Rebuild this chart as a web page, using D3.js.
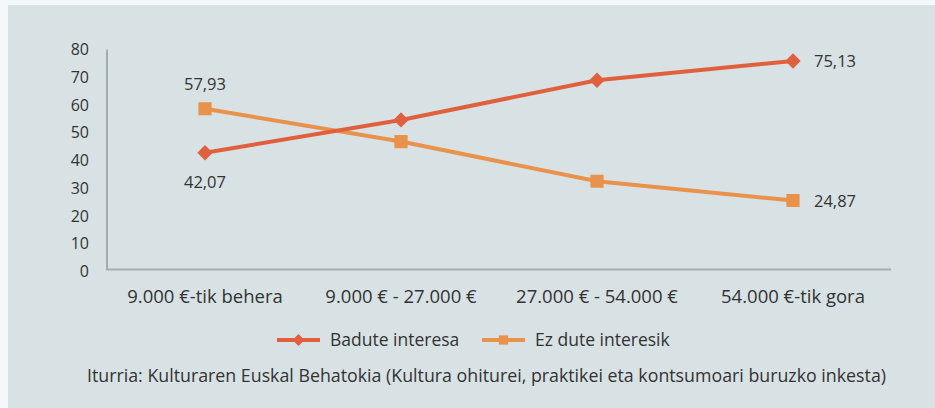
<!DOCTYPE html>
<html>
<head>
<meta charset="utf-8">
<script src="https://cdn.jsdelivr.net/npm/d3@7"></script>
<style>
  body { margin: 0; background: #f5f8f8; }
  svg { display: block; }
  text { font-family: "Open Sans", sans-serif; fill: #333; }
</style>
</head>
<body>
<div id="chart"></div>
<script>
const categories = ["9.000 €-tik behera", "9.000 € - 27.000 €", "27.000 € - 54.000 €", "54.000 €-tik gora"];
const baduteInteresa = [42.07, 53.9, 68.2, 75.13];
const ezDuteInteresik = [57.93, 46.1, 31.8, 24.87];
const yTicks = [0, 10, 20, 30, 40, 50, 60, 70, 80];
const seriesNames = ["Badute interesa", "Ez dute interesik"];
const sourceText = "Iturria: Kulturaren Euskal Behatokia (Kultura ohiturei, praktikei eta kontsumoari buruzko inkesta)";

const width = 935, height = 408;
const colors = ["#e0603d", "#e8924b"];

const svg = d3.select("#chart").append("svg")
    .attr("width", width)
    .attr("height", height);

// panel
svg.append("rect")
    .attr("x", 8).attr("y", 5)
    .attr("width", width).attr("height", height)
    .attr("fill", "#d8e2e4");

const x = d3.scaleBand()
    .domain(categories)
    .range([107, 891]);

const y = d3.scaleLinear()
    .domain([0, 80])
    .range([269.5, 47.5]);

// axes
svg.append("line")
    .attr("x1", 107).attr("x2", 107)
    .attr("y1", y(80) + 2).attr("y2", y(0))
    .attr("stroke", "#a3adb0").attr("stroke-width", 2);
svg.append("line")
    .attr("x1", 106).attr("x2", 891)
    .attr("y1", y(0)).attr("y2", y(0))
    .attr("stroke", "#a3adb0").attr("stroke-width", 2);

svg.selectAll(".ytick")
    .data(yTicks)
    .enter()
    .append("text")
    .attr("class", "ytick")
    .attr("x", 89)
    .attr("y", d => y(d) + 2)
    .attr("dy", "0.35em")
    .attr("text-anchor", "end")
    .style("font-size", "16px")
    .text(d => d);

svg.selectAll(".xtick")
    .data(categories)
    .enter()
    .append("text")
    .attr("class", "xtick")
    .attr("x", d => x(d) + x.bandwidth() / 2)
    .attr("y", 297)
    .attr("dy", "0.35em")
    .attr("text-anchor", "middle")
    .style("font-size", "18.5px")
    .text(d => d);

const line = d3.line()
    .x((d, i) => x(categories[i]) + x.bandwidth() / 2)
    .y(d => y(d));

const allSeries = [baduteInteresa, ezDuteInteresik];

// draw orange first so red sits on top where they cross
[1, 0].forEach(s => {
    const vals = allSeries[s];
    svg.append("path")
        .datum(vals)
        .attr("d", line)
        .attr("fill", "none")
        .attr("stroke", colors[s])
        .attr("stroke-width", 4);

    svg.selectAll(".m" + s)
        .data(vals)
        .enter()
        .append("path")
        .attr("class", "m" + s)
        .attr("d", d3.symbol().type(s === 0 ? d3.symbolDiamond2 : d3.symbolSquare2).size(s === 0 ? 150 : 160))
        .attr("transform", (d, i) => `translate(${x(categories[i]) + x.bandwidth() / 2},${y(d)})`)
        .attr("fill", colors[s])
        .attr("stroke", colors[s])
        .attr("stroke-width", s === 0 ? 0 : 2);
});

// value labels on the first and last points
const fmt = v => v.toFixed(2).replace(".", ",");
const labels = [
    { v: ezDuteInteresik[0], cx: x(categories[0]) + x.bandwidth() / 2, dx: 0, dy: -25, anchor: "middle" },
    { v: baduteInteresa[0], cx: x(categories[0]) + x.bandwidth() / 2, dx: 0, dy: 29, anchor: "middle" },
    { v: baduteInteresa[3], cx: x(categories[3]) + x.bandwidth() / 2, dx: 21, dy: 0, anchor: "start" },
    { v: ezDuteInteresik[3], cx: x(categories[3]) + x.bandwidth() / 2, dx: 21, dy: 1, anchor: "start" }
];
svg.selectAll(".vlabel")
    .data(labels)
    .enter()
    .append("text")
    .attr("class", "vlabel")
    .attr("x", d => d.cx + d.dx)
    .attr("y", d => y(d.v) + d.dy)
    .attr("dy", "0.35em")
    .attr("text-anchor", d => d.anchor)
    .style("font-size", "16.5px")
    .text(d => fmt(d.v));

// legend
const legendItems = [
    { name: seriesNames[0], x: 277, color: colors[0], sym: d3.symbolDiamond2 },
    { name: seriesNames[1], x: 482, color: colors[1], sym: d3.symbolSquare2 }
];
const lg = svg.selectAll(".legend")
    .data(legendItems)
    .enter()
    .append("g")
    .attr("class", "legend")
    .attr("transform", d => `translate(${d.x},340)`);
lg.append("line")
    .attr("x1", 0).attr("x2", 43)
    .attr("stroke", d => d.color)
    .attr("stroke-width", 4);
lg.append("path")
    .attr("d", d => d3.symbol().type(d.sym).size(d.sym === d3.symbolDiamond2 ? 90 : 110)())
    .attr("transform", "translate(21.5,0)")
    .attr("fill", d => d.color);
lg.append("text")
    .attr("x", 53)
    .attr("dy", "0.35em")
    .style("font-size", "17.5px")
    .text(d => d.name);

svg.append("text")
    .attr("x", 87)
    .attr("y", 376)
    .attr("dy", "0.35em")
    .style("font-size", "17.8px")
    .text(sourceText);
</script>
</body>
</html>
